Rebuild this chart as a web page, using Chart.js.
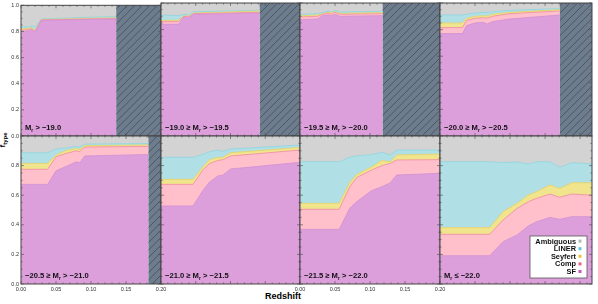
<!DOCTYPE html>
<html>
<head>
<meta charset="utf-8">
<script src="https://cdn.jsdelivr.net/npm/chart.js@4.4.1/dist/chart.umd.min.js"></script>
<style>
  body { margin: 0; width: 598px; height: 304px; overflow: hidden; position: relative; background: #fff;
         font-family: "Liberation Sans", Arial, sans-serif; }
  canvas { position: absolute; left: 0; top: 0; }
  #xlab { position: absolute; left: 265px; top: 292px; font-size: 9px; font-weight: bold; line-height: 1; }
  #ylab { position: absolute; left: -7px; top: 135px; width: 22px; height: 10px; font-size: 8px; font-weight: bold;
          line-height: 1; transform: rotate(-90deg); text-align: center; }
  #ylab sub { font-size: 6px; vertical-align: -2px; }
</style>
</head>
<body>
<div id="xlab">Redshift</div>
<div id="ylab">f<sub>type</sub></div>
<script>
// magnitude bins, one per panel (top row left to right, then bottom row)
const magBins = [[null, -19.0], [-19.0, -19.5], [-19.5, -20.0], [-20.0, -20.5],
                 [-20.5, -21.0], [-21.0, -21.5], [-21.5, -22.0], [-22.0, null]];

const redshift = [
  [0, 0.012, 0.015, 0.02, 0.029, 0.08, 0.136],
  [0, 0.025, 0.033, 0.04, 0.047, 0.142],
  [0, 0.025, 0.032, 0.04, 0.045, 0.05, 0.057, 0.118],
  [0, 0.032, 0.038, 0.05, 0.062, 0.067, 0.075, 0.1, 0.171],
  [0, 0.038, 0.05, 0.065, 0.079, 0.084, 0.091, 0.182],
  [0, 0.046, 0.06, 0.07, 0.082, 0.089, 0.1, 0.2],
  [0, 0.056, 0.071, 0.081, 0.102, 0.117, 0.129, 0.138, 0.2],
  [0, 0.071, 0.09, 0.11, 0.126, 0.138, 0.157, 0.171, 0.188, 0.217]
];
const sf = [
  [.80, .805, .815, .795, .885, .89, .895],
  [.84, .84, .895, .89, .915, .925],
  [.875, .88, .905, .91, .905, .915, .90, .905],
  [.77, .77, .83, .85, .855, .842, .86, .88, .91],
  [.673, .673, .765, .795, .826, .82, .865, .875],
  [.527, .527, .63, .69, .73, .735, .777, .822],
  [.369, .369, .511, .556, .63, .657, .684, .736, .748],
  [.191, .191, .286, .331, .392, .421, .45, .437, .455, .455]
];
const comp = [
  [.01, .01, .007, .005, .003, .004, .005],
  [.02, .02, .005, .005, .005, .005],
  [.02, .02, .01, .015, .01, .015, .015, .015],
  [.045, .045, .04, .035, .035, .043, .04, .04, .03],
  [.102, .102, .095, .088, .074, .075, .06, .055],
  [.146, .146, .14, .125, .105, .105, .088, .083],
  [.136, .136, .146, .164, .14, .143, .131, .102, .092],
  [.145, .145, .146, .18, .164, .158, .158, .149, .153, .145]
];
const seyfert = [
  [.01, .01, .006, .01, .003, .004, .005],
  [.01, .01, .005, .005, .005, .01],
  [.01, .01, .005, .005, .01, .005, .007, .008],
  [.035, .035, .015, .015, .015, .015, .015, .01, .01],
  [.04, .04, .012, .021, .015, .015, .01, .01],
  [.034, .034, .02, .025, .02, .015, .022, .018],
  [.04, .04, .028, .02, .02, .035, .011, .034, .038],
  [.045, .045, .057, .034, .045, .045, .061, .06, .076, .084]
];
const liner = [
  [.015, .01, .012, .025, .004, .007, .01],
  [.04, .035, .01, .01, .01, .005],
  [.01, .01, .01, .01, .007, .01, .01, .01],
  [.06, .06, .03, .025, .025, .028, .02, .015, .008],
  [.072, .072, .04, .016, .015, .015, .01, .01],
  [.149, .149, .085, .054, .05, .04, .025, .016],
  [.281, .281, .171, .126, .084, .055, .045, .033, .027],
  [.445, .445, .331, .28, .21, .202, .157, .142, .136, .127]
];

const xTicks = [0, 0.05, 0.1, 0.15, 0.2];
const yTicks = [0, 0.2, 0.4, 0.6, 0.8, 1.0];
const xMax = [0.2, 0.2, 0.2, 0.217];
const legendNames = ["Ambiguous", "LINER", "Seyfert", "Comp", "SF"];

// layout (pixels)
const W = 598, H = 304;
const colL = [21, 161, 300, 440], colR = [161, 300, 440, 592];
const rowT = [3, 136], rowB = [136, 284];
const AXW = 20, AXH = 12;   // room kept for tick labels

const fills = { sf: "#dc9fdc", comp: "#ffc0cb", sey: "#f0e48c", liner: "#b0e0e6", amb: "#d3d3d3" };
const edges = { sf: "#d38ed3", comp: "#f48aa0", sey: "#e6d26a", liner: "#8ed6e0" };
const legendColors = ["#b8b8b8", "#5cc8da", "#e8c63c", "#f0608a", "#c25cc2"];

const MINUS = "\u2212";
const fmt = v => (v < 0 ? MINUS : "") + Math.abs(v).toFixed(1);
function labelParts(bin) {
  if (bin[0] === null) return [["M", 0], ["r", 1], [" > " + fmt(bin[1]), 0]];
  if (bin[1] === null) return [["M", 0], ["r", 1], [" \u2264 " + fmt(bin[0]), 0]];
  return [[fmt(bin[0]) + " \u2265 M", 0], ["r", 1], [" > " + fmt(bin[1]), 0]];
}

const panelPlugin = {
  id: "panel",
  beforeDraw(chart, args, o) {
    const { ctx, chartArea: a, scales: { x } } = chart;
    const xe = Math.min(x.getPixelForValue(o.zEnd), a.right);
    ctx.save();
    ctx.fillStyle = fills.amb;
    ctx.fillRect(a.left, a.top, xe - a.left, a.bottom - a.top);
    if (a.right - xe > 1) {
      const h = a.bottom - a.top;
      ctx.fillStyle = "#6e7d8e";
      ctx.fillRect(xe, a.top, a.right - xe, h);
      ctx.beginPath();
      ctx.rect(xe, a.top, a.right - xe, h);
      ctx.clip();
      ctx.strokeStyle = "#3a4653";
      ctx.lineWidth = 0.7;
      for (let s = -h; s < W; s += 7.5) {
        ctx.beginPath();
        ctx.moveTo(s, a.bottom);
        ctx.lineTo(s + h, a.top);
        ctx.stroke();
      }
    }
    ctx.restore();
  },
  afterDraw(chart, args, o) {
    const { ctx, chartArea: a, scales: { x, y } } = chart;
    ctx.save();
    ctx.strokeStyle = "#4a4a4a";
    ctx.lineWidth = 0.6;
    ctx.beginPath();
    for (let i = 0; x.getPixelForValue(i * 0.01) <= a.right + 0.1; i++) {
      const px = x.getPixelForValue(i * 0.01);
      const len = i % 5 === 0 ? 3 : 1.6;
      ctx.moveTo(px, a.bottom); ctx.lineTo(px, a.bottom - len);
      ctx.moveTo(px, a.top); ctx.lineTo(px, a.top + len);
    }
    for (let i = 0; i <= 20; i++) {
      const py = y.getPixelForValue(i * 0.05);
      const len = i % 4 === 0 ? 3 : 1.6;
      ctx.moveTo(a.left, py); ctx.lineTo(a.left + len, py);
      ctx.moveTo(a.right, py); ctx.lineTo(a.right - len, py);
    }
    ctx.stroke();
    ctx.lineWidth = 1;
    ctx.strokeStyle = "#444";
    ctx.strokeRect(a.left, a.top, a.right - a.left, a.bottom - a.top);

    // panel label
    let tx = a.left + 4;
    const ty = a.bottom - 6;
    ctx.fillStyle = "#111";
    ctx.textBaseline = "alphabetic";
    for (const [t, sub] of o.parts) {
      ctx.font = sub ? "bold 5px 'Liberation Sans', Arial" : "bold 7.6px 'Liberation Sans', Arial";
      ctx.fillText(t, tx, sub ? ty + 1.5 : ty);
      tx += ctx.measureText(t).width;
    }

    if (o.legend) {
      const bx1 = a.right - 5, by2 = a.bottom - 6, bx0 = bx1 - 57, by0 = by2 - 42;
      ctx.fillStyle = "#fff";
      ctx.fillRect(bx0, by0, bx1 - bx0, by2 - by0);
      ctx.strokeStyle = "#555";
      ctx.lineWidth = 0.8;
      ctx.strokeRect(bx0, by0, bx1 - bx0, by2 - by0);
      ctx.font = "bold 7.4px 'Liberation Sans', Arial";
      ctx.textAlign = "right";
      legendNames.forEach((n, k) => {
        const yy = by0 + 7.6 + k * 7.6;
        ctx.fillStyle = "#111";
        ctx.fillText(n, bx1 - 11, yy);
        ctx.fillStyle = legendColors[k];
        ctx.fillRect(bx1 - 8.5, yy - 4, 3, 3);
      });
    }
    ctx.restore();
  }
};

for (let p = 0; p < 8; p++) {
  const row = p < 4 ? 0 : 1, col = p % 4;
  const cv = document.createElement("canvas");
  cv.width = W; cv.height = H;
  document.body.appendChild(cv);
  const pts = vals => vals.map((v, j) => ({ x: redshift[p][j], y: v }));
  const ds = (name, vals, key, fill) => ({
    label: name, data: pts(vals), fill: fill,
    backgroundColor: fills[key], borderColor: edges[key], borderWidth: 0.8,
    pointRadius: 0, tension: 0
  });
  const showX = row === 1 && (col === 0 || col === 2);
  const showY = col === 0;
  new Chart(cv, {
    type: "line",
    data: {
      datasets: [
        ds("SF", sf[p], "sf", "origin"),
        ds("Comp", comp[p], "comp", "-1"),
        ds("Seyfert", seyfert[p], "sey", "-1"),
        ds("LINER", liner[p], "liner", "-1")
      ]
    },
    options: {
      responsive: false, animation: false, events: [],
      layout: { autoPadding: false,
                padding: { left: colL[col] - AXW, right: W - colR[col], top: rowT[row],
                           bottom: H - rowB[row] - AXH } },
      plugins: {
        legend: { display: false }, tooltip: { enabled: false },
        panel: { zEnd: redshift[p][redshift[p].length - 1], parts: labelParts(magBins[p]), legend: p === 7 }
      },
      scales: {
        x: {
          type: "linear", min: 0, max: xMax[col],
          grid: { display: false, drawTicks: false }, border: { display: false },
          afterBuildTicks: s => { s.ticks = xTicks.map(v => ({ value: v })); },
          afterFit: s => { s.height = AXH; },
          ticks: { display: showX, padding: 2, autoSkip: false, maxRotation: 0, color: "#333",
                   font: { size: 5.5, family: "'Liberation Sans', Arial" }, callback: v => v.toFixed(2) }
        },
        y: {
          stacked: true, min: 0, max: 1,
          grid: { display: false, drawTicks: false }, border: { display: false },
          afterBuildTicks: s => { s.ticks = yTicks.map(v => ({ value: v })); },
          afterFit: s => { s.width = AXW; },
          ticks: { display: showY, padding: 2, autoSkip: false, color: "#333",
                   font: { size: 5.5, family: "'Liberation Sans', Arial" },
                   callback: v => (row === 1 && v === 1) ? "" : v.toFixed(1) }
        }
      }
    },
    plugins: [panelPlugin]
  });
}
</script>
</body>
</html>
